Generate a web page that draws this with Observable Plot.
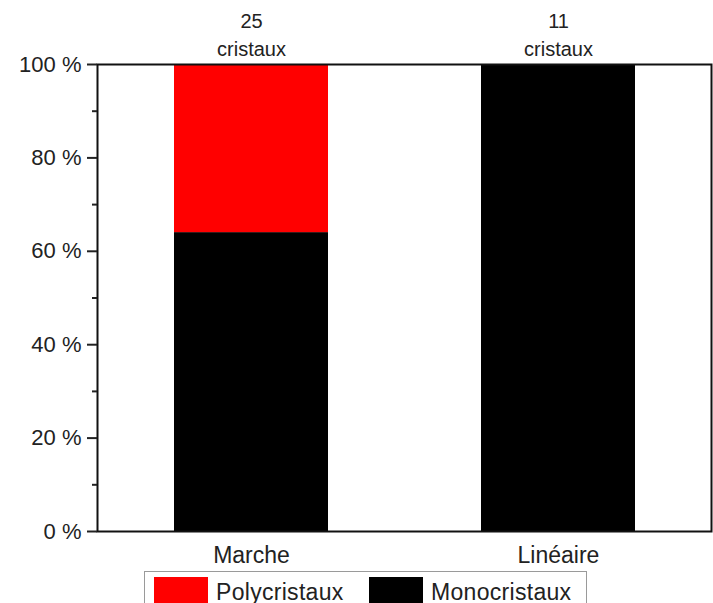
<!DOCTYPE html>
<html>
<head>
<meta charset="utf-8">
<script src="https://cdn.jsdelivr.net/npm/d3@7"></script>
<script src="https://cdn.jsdelivr.net/npm/@observablehq/plot@0.6"></script>
<style>
  html, body { margin: 0; padding: 0; background: #fff; }
  body { width: 713px; height: 603px; overflow: hidden; position: relative; font-family: "Liberation Sans", Arial, sans-serif; }
  #chart { position: absolute; left: 0; top: 0; }
  #legend { position: absolute; left: 144px; top: 571px; width: 443px; height: 40px; border: 1px solid #9a9a9a; box-sizing: border-box; background: #fff; }
  .item { position: absolute; top: 5px; display: flex; align-items: center; }
  .sw { width: 54px; height: 30px; }
  .lab { margin-left: 8px; font-size: 23px; color: #222; line-height: 30px; letter-spacing: 0.3px; }
</style>
</head>
<body>
<div id="chart"></div>
<div id="legend"></div>
<script>
const categories = ["Marche", "Linéaire"];
const crystalCounts = [25, 11];
const series = ["Monocristaux", "Polycristaux"];
const monoPercent = [64, 100];
const polyPercent = [36, 0];
const seriesColors = { "Polycristaux": "#ff0000", "Monocristaux": "#000000" };
const majorTicks = [0, 20, 40, 60, 80, 100];
const minorTicks = [10, 30, 50, 70, 90];
const legendOrder = ["Polycristaux", "Monocristaux"];

const rows = [];
categories.forEach((c, i) => {
  rows.push({ cat: c, type: "Monocristaux", value: monoPercent[i] });
  rows.push({ cat: c, type: "Polycristaux", value: polyPercent[i] });
});
const topLabels = categories.map((c, i) => ({ cat: c, label: `${crystalCounts[i]}\ncristaux` }));

const chart = Plot.plot({
  width: 713,
  height: 570,
  marginLeft: 97,
  marginRight: 2,
  marginTop: 64,
  marginBottom: 39,
  style: { fontFamily: "'Liberation Sans', Arial, sans-serif", color: "#222", background: "#fff" },
  x: { type: "band", domain: categories, paddingInner: 0.5, paddingOuter: 0.25, axis: null, label: null },
  y: { domain: [0, 100], axis: null, label: null },
  color: { domain: series, range: series.map(s => seriesColors[s]) },
  marks: [
    Plot.barY(rows, { x: "cat", y: "value", fill: "type", order: series }),
    Plot.frame({ stroke: "#111", strokeWidth: 2 }),
    Plot.axisY(majorTicks, { label: null, tickSize: 10, tickPadding: 6, strokeWidth: 2, fontSize: 22, tickFormat: d => `${d} %`, style: { letterSpacing: "0.6px" } }),
    Plot.axisY(minorTicks, { label: null, tickSize: 5, strokeWidth: 2, tickFormat: () => "" }),
    Plot.axisX(categories, { label: null, tickSize: 0, tickPadding: 15, fontSize: 23, style: { letterSpacing: "0.4px" } }),
    Plot.text(topLabels, { x: "cat", y: () => 100, text: "label", lineAnchor: "bottom", lineHeight: 1.4, fontSize: 20, dy: -9, fill: "#222" })
  ]
});
document.getElementById("chart").appendChild(chart);

const legend = document.getElementById("legend");
const lefts = [9, 224];
legendOrder.forEach((s, i) => {
  const it = document.createElement("div");
  it.className = "item";
  it.style.left = lefts[i] + "px";
  const sw = document.createElement("div");
  sw.className = "sw";
  sw.style.background = seriesColors[s];
  const lab = document.createElement("span");
  lab.className = "lab";
  lab.textContent = s;
  it.appendChild(sw);
  it.appendChild(lab);
  legend.appendChild(it);
});
</script>
</body>
</html>
